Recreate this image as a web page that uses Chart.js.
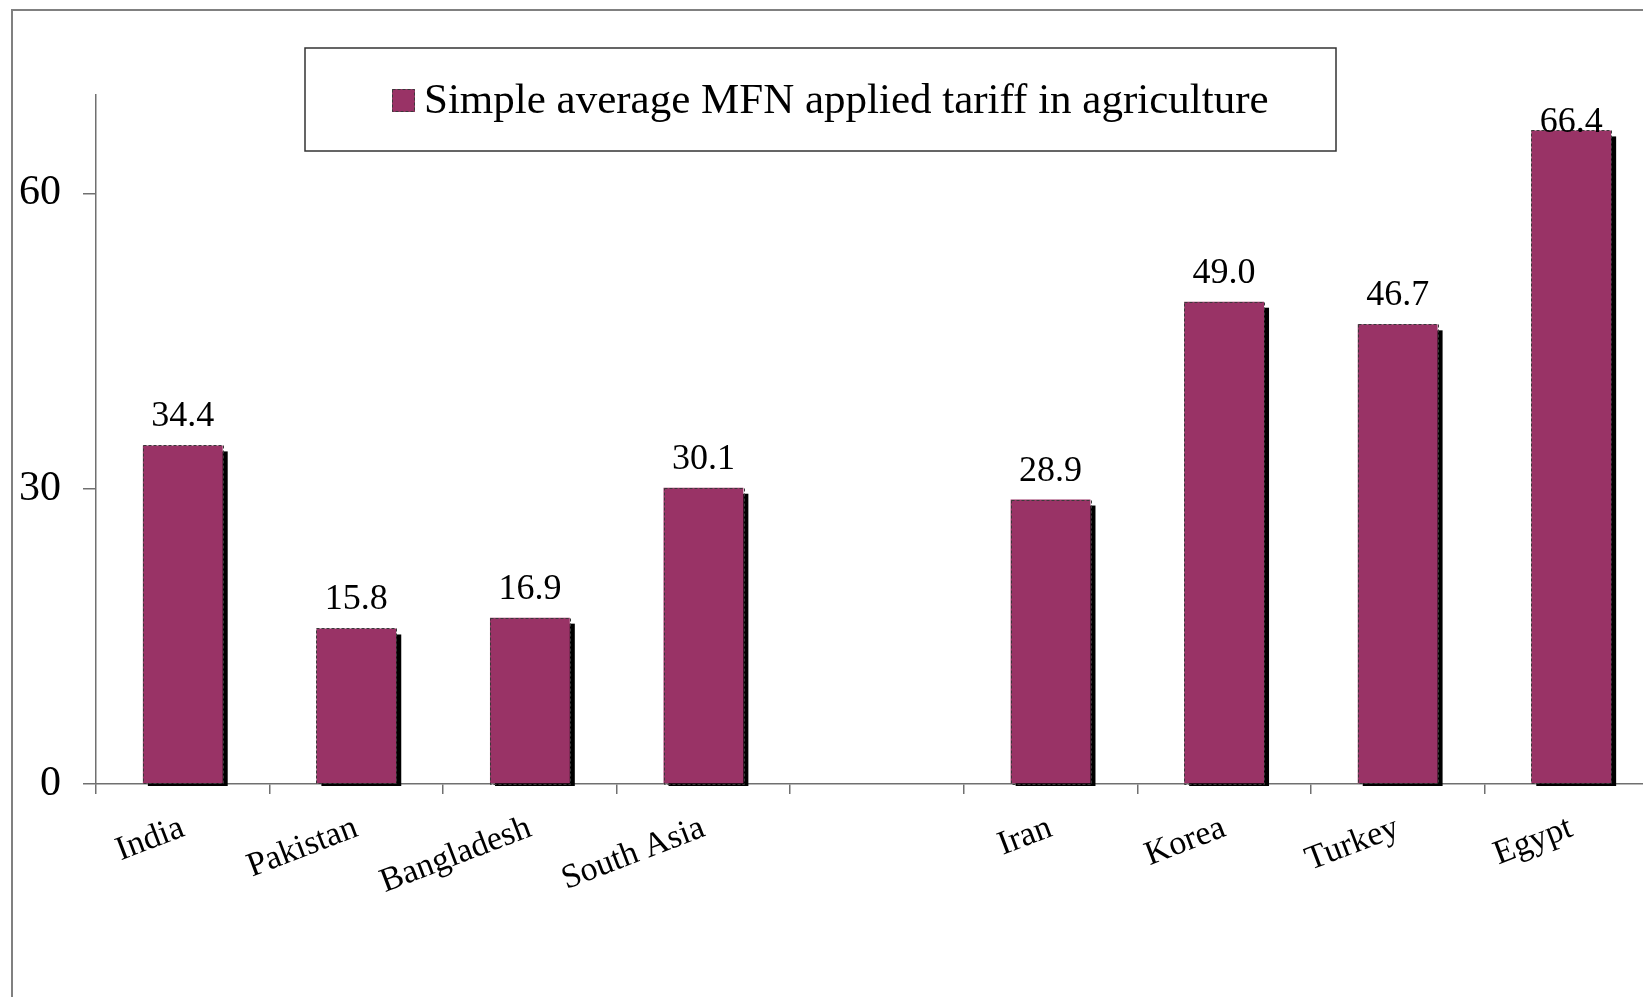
<!DOCTYPE html>
<html>
<head>
<meta charset="utf-8">
<title>MFN applied tariff in agriculture</title>
<script src="https://cdn.jsdelivr.net/npm/chart.js@4/dist/chart.umd.min.js"></script>
<style>
  html, body { margin: 0; padding: 0; background: #fff; overflow: hidden; }
  #wrap { position: absolute; left: 0; top: 0; width: 1720px; height: 997px; }
</style>
</head>
<body>
<div id="wrap"><canvas id="tariffChart" width="1720" height="997"></canvas></div>
<script>
// --- data ---
const countries = ['India', 'Pakistan', 'Bangladesh', 'South Asia', '', 'Iran', 'Korea', 'Turkey', 'Egypt'];
const tariffs = [34.4, 15.8, 16.9, 30.1, null, 28.9, 49.0, 46.7, 66.4];
const seriesName = 'Simple average MFN applied tariff in agriculture';
const yTicks = [0, 30, 60];

const SERIF = '"Liberation Serif", "Times New Roman", serif';
const PLUM = '#993366';
const AXIS = '#707070';

// outer frame, bar shadows, dashed bar edges, value labels, legend box
const decor = {
    id: 'decor',
    beforeDraw(chart) {
        const ctx = chart.ctx;
        ctx.save();
        ctx.strokeStyle = '#808080';
        ctx.lineWidth = 2;
        ctx.strokeRect(12, 10, 3000, 3000);
        ctx.restore();
    },
    beforeDatasetsDraw(chart) {
        const ctx = chart.ctx;
        const base = chart.scales.y.getPixelForValue(0);
        ctx.save();
        ctx.fillStyle = '#000';
        chart.getDatasetMeta(0).data.forEach((bar, i) => {
            if (tariffs[i] == null) return;
            const w = bar.width;
            ctx.fillRect(bar.x - w / 2 + 5, bar.y + 6, w, base + 2 - bar.y - 6);
        });
        ctx.restore();
    },
    afterDatasetsDraw(chart) {
        const ctx = chart.ctx;
        const area = chart.chartArea;
        ctx.save();
        chart.getDatasetMeta(0).data.forEach((bar, i) => {
            if (tariffs[i] == null) return;
            const w = bar.width;
            ctx.setLineDash([3, 2]);
            ctx.strokeStyle = '#3a3a3a';
            ctx.lineWidth = 1;
            ctx.strokeRect(Math.round(bar.x - w / 2) + 0.5, Math.round(bar.y) + 0.5, Math.round(w), Math.round(bar.base - bar.y));
            ctx.setLineDash([]);
            ctx.fillStyle = '#000';
            ctx.font = '36px ' + SERIF;
            ctx.textAlign = 'center';
            ctx.textBaseline = 'alphabetic';
            const y = Math.max(bar.y - 19, area.top + 37);
            ctx.fillText(tariffs[i].toFixed(1), bar.x, y);
        });
        ctx.restore();
    },
    afterDraw(chart) {
        const ctx = chart.ctx;
        ctx.save();
        ctx.fillStyle = '#fff';
        ctx.fillRect(305, 48, 1031, 103);
        ctx.strokeStyle = '#333';
        ctx.lineWidth = 1.5;
        ctx.strokeRect(305, 48, 1031, 103);
        ctx.fillStyle = PLUM;
        ctx.fillRect(392, 89, 23, 23);
        ctx.setLineDash([3, 2]);
        ctx.strokeStyle = '#3a3a3a';
        ctx.lineWidth = 1;
        ctx.strokeRect(392.5, 89.5, 22, 22);
        ctx.setLineDash([]);
        ctx.fillStyle = '#000';
        ctx.font = '43px ' + SERIF;
        ctx.textAlign = 'left';
        ctx.textBaseline = 'alphabetic';
        ctx.fillText(chart.data.datasets[0].label, 424, 113);
        ctx.restore();
    }
};

new Chart(document.getElementById('tariffChart'), {
    type: 'bar',
    data: {
        labels: countries,
        datasets: [{
            label: seriesName,
            data: tariffs,
            backgroundColor: PLUM,
            borderWidth: 0,
            categoryPercentage: 1,
            barPercentage: 0.46
        }]
    },
    options: {
        responsive: false,
        animation: false,
        devicePixelRatio: 1,
        layout: { padding: { top: 95, right: 62, left: 0, bottom: 0 } },
        plugins: { legend: { display: false }, tooltip: { enabled: false } },
        scales: {
            x: {
                grid: { display: true, drawOnChartArea: false, drawTicks: true, tickLength: 10, offset: true, color: AXIS, lineWidth: 1.5 },
                border: { display: true, color: AXIS, width: 1.5 },
                ticks: {
                    color: '#000',
                    font: { family: SERIF, size: 34 },
                    minRotation: 21,
                    maxRotation: 21,
                    padding: 14,
                    autoSkip: false
                },
                afterFit(scale) { scale.height = 997 - 784; }
            },
            y: {
                min: 0,
                max: 70,
                grid: { display: true, drawOnChartArea: false, drawTicks: true, tickLength: 13, color: AXIS, lineWidth: 1.5 },
                border: { display: true, color: AXIS, width: 1.5 },
                afterBuildTicks(scale) { scale.ticks = yTicks.map(v => ({ value: v })); },
                ticks: {
                    color: '#000',
                    font: { family: SERIF, size: 42 },
                    padding: 22
                },
                afterFit(scale) { scale.width = 96; }
            }
        }
    },
    plugins: [decor]
});
</script>
</body>
</html>
